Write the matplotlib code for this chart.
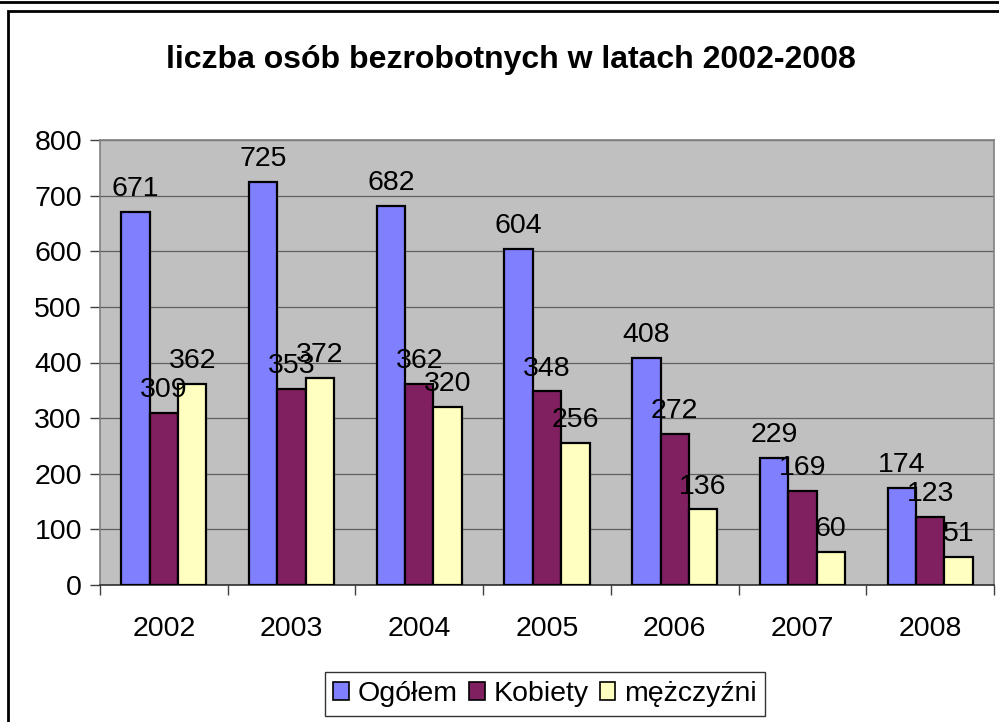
import numpy as np
import matplotlib.pyplot as plt
from matplotlib.patches import Patch, Rectangle
from matplotlib.lines import Line2D

plt.rcParams['font.family'] = ['Liberation Sans', 'DejaVu Sans']

# ---------- DATA ----------
years = ['2002', '2003', '2004', '2005', '2006', '2007', '2008']
ogolem = [671, 725, 682, 604, 408, 229, 174]
kobiety = [309, 353, 362, 348, 272, 169, 123]
mezczyzni = [362, 372, 320, 256, 136, 60, 51]
series_names = ['Ogółem', 'Kobiety', 'mężczyźni']
colors = ['#8080FF', '#802060', '#FFFFC0']

# ---------- FIGURE ----------
W, H = 999, 722
fig = plt.figure(figsize=(W / 100, H / 100), dpi=100)

# outer frames like the screenshot
fig.add_artist(Line2D([0, 1], [1 - 1.5 / H, 1 - 1.5 / H], color='black', lw=2,
                      transform=fig.transFigure))
fig.add_artist(Rectangle((7.5 / W, -0.05), 1.2, 1 - 11 / H + 0.05, fill=False,
                         edgecolor='black', lw=2, transform=fig.transFigure))

ax = fig.add_axes([100 / W, (H - 585) / H, (994 - 100) / W, (585 - 140) / H])
ax.set_facecolor('#C0C0C0')

fs = 20.5
x = np.arange(len(years))
bw = 1 / 4.5
all_series = [ogolem, kobiety, mezczyzni]
for i, vals in enumerate(all_series):
    pos = x + (i - 1) * bw
    ax.bar(pos, vals, width=bw, color=colors[i], edgecolor='black', lw=1.6, zorder=3)
    for px, v in zip(pos, vals):
        ax.annotate(str(v), (px, v), xytext=(0, 7), textcoords='offset points',
                    ha='center', va='bottom', fontsize=fs, zorder=4)

ax.set_xlim(-0.5, len(years) - 0.5)
ax.set_ylim(0, 800)
ax.set_yticks(range(0, 801, 100))
ax.yaxis.grid(True, color='#606060', lw=0.9, zorder=1)
ax.tick_params(axis='y', labelsize=fs, length=7, width=1, color='#404040', pad=6)

ax.set_xticks(x)
ax.set_xticklabels(years)
ax.tick_params(axis='x', which='major', length=0, labelsize=fs, pad=22)
ax.set_xticks(np.arange(len(years) + 1) - 0.5, minor=True)
ax.tick_params(axis='x', which='minor', length=7, width=1, color='#404040')

for s in ['top', 'right', 'left']:
    ax.spines[s].set_color('#808080')
    ax.spines[s].set_linewidth(1.2)
ax.spines['bottom'].set_color('#303030')
ax.spines['bottom'].set_linewidth(1.2)

fig.text(511 / W, 1 - 60 / H, 'liczba osób bezrobotnych w latach 2002-2008',
         ha='center', va='center', fontsize=23, fontweight='bold')

handles = [Patch(facecolor=c, edgecolor='black', lw=1.2) for c in colors]
leg = fig.legend(handles, series_names, loc='center', bbox_to_anchor=(545 / W, 1 - 694 / H),
                 ncol=3, fontsize=fs, frameon=True, fancybox=False, handlelength=0.55,
                 handleheight=0.55, handletextpad=0.3, columnspacing=0.4,
                 borderpad=0.3, borderaxespad=0)
leg.get_frame().set_edgecolor('black')
leg.get_frame().set_linewidth(1)

fig.savefig('out.png', dpi=100)
